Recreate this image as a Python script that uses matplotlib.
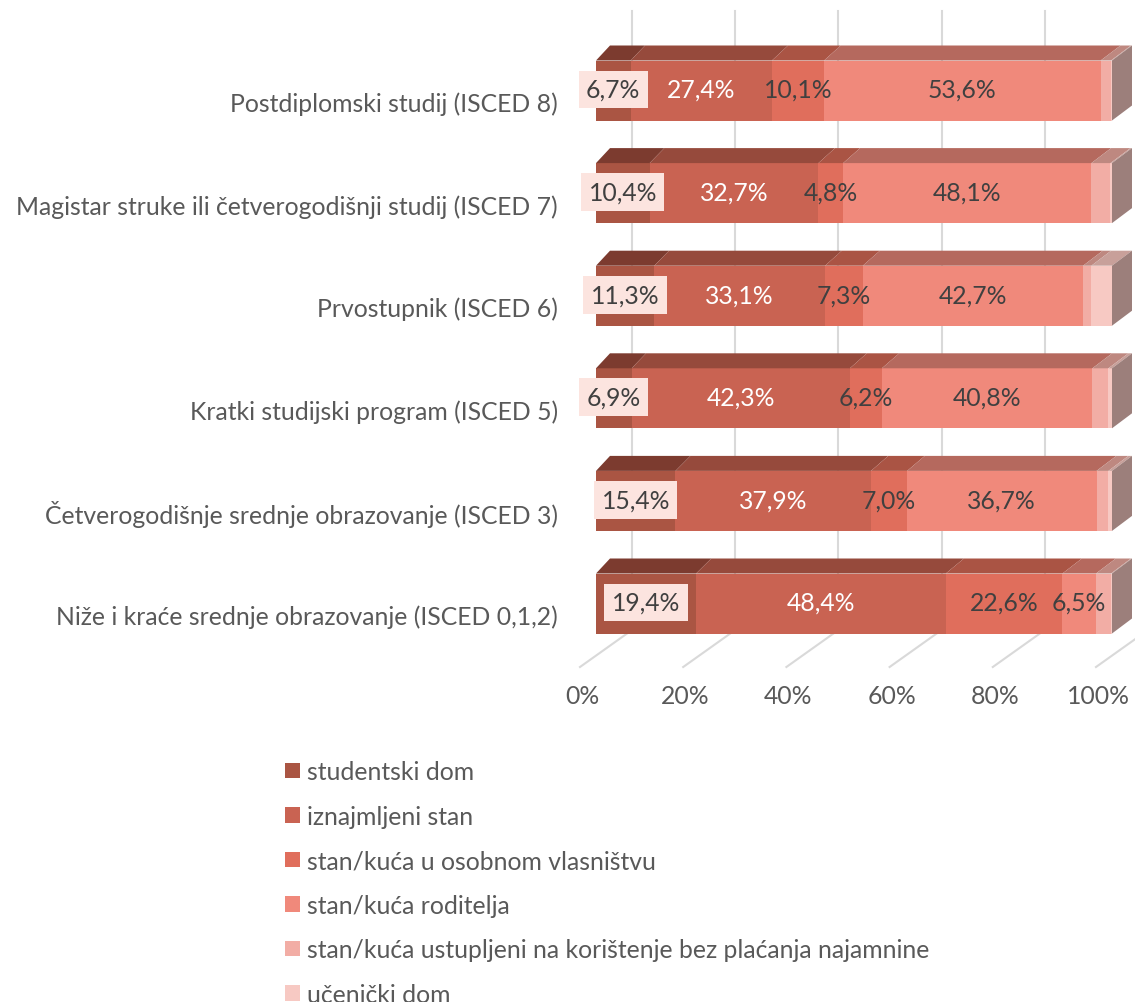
import numpy as np
import matplotlib.pyplot as plt
from matplotlib.patches import Polygon, Patch
from matplotlib import rcParams

FS = 17.8
rcParams.update({"font.family": ["Lato", "DejaVu Sans"], "font.size": FS})

# --- data (top row first, as in the picture) ---------------------------------
categories = [
    "Postdiplomski studij (ISCED 8)",
    "Magistar struke ili četverogodišnji studij (ISCED 7)",
    "Prvostupnik (ISCED 6)",
    "Kratki studijski program (ISCED 5)",
    "Četverogodišnje srednje obrazovanje (ISCED 3)",
    "Niže i kraće srednje obrazovanje (ISCED 0,1,2)",
]
series_names = [
    "studentski dom",
    "iznajmljeni stan",
    "stan/kuća u osobnom vlasništvu",
    "stan/kuća roditelja",
    "stan/kuća ustupljeni na korištenje bez plaćanja najamnine",
    "učenički dom",
]
studentski_dom = [6.7, 10.4, 11.3, 6.9, 15.4, 19.4]
iznajmljeni = [27.4, 32.7, 33.1, 42.3, 37.9, 48.4]
vlasnistvo = [10.1, 4.8, 7.3, 6.2, 7.0, 22.6]
roditelji = [53.6, 48.1, 42.7, 40.8, 36.7, 6.5]
ustupljeni = [2.0, 3.7, 1.6, 3.1, 2.3, 2.9]
ucenicki = [0.2, 0.3, 4.0, 0.7, 0.7, 0.2]
series = [studentski_dom, iznajmljeni, vlasnistvo, roditelji, ustupljeni, ucenicki]
labelled = [True, True, True, True, False, False]
xticks = [0, 20, 40, 60, 80, 100]

FRONT = ["#AA5543", "#C96352", "#E06E5C", "#F0897B", "#F2ADA5", "#F7C9C3"]
TOP = ["#7C3B2F", "#964A3C", "#AA5444", "#B5695E", "#BE8880", "#C8A09A"]
SIDE = "#9C7F7B"
GRID = "#D9D9D9"
TXT = "#595959"
DARK = "#404040"

# --- geometry (pixel based mapping of the Excel 3D look) ---------------------
W, H, DPI = 1135, 1003, 100
SX = 5.16          # px per percent
X0 = 596           # px of 0 % on bar front
UY = 102.6         # px per category step
Y0 = 604.5         # px (from top) of lowest bar centre
ax_l, ax_r, ax_t, ax_b = 575, 1135, 8, 720

fig = plt.figure(figsize=(W / DPI, H / DPI), dpi=DPI)
ax = fig.add_axes([ax_l / W, 1 - ax_b / H, (ax_r - ax_l) / W, (ax_b - ax_t) / H])
ax.set_xlim((ax_l - X0) / SX, (ax_r - X0) / SX)
ax.set_ylim(-(ax_b - Y0) / UY, (Y0 - ax_t) / UY)
ax.axis("off")

h = 60 / UY
dy = 15 / UY
def dx(p):
    return (14 + 6 * p / 100) / SX

# back wall gridlines + floor lines
wall_x = 36 / SX
floor_front_x = -16 / SX
floor_front_y = -(668 - Y0) / UY
wall_bottom = -(631 - Y0) / UY
wall_top = (Y0 - 12) / UY
for p in xticks:
    ax.plot([p + wall_x, p + wall_x], [wall_bottom, wall_top], color=GRID, lw=1.5, zorder=1)
    ax.plot([p + floor_front_x, p + wall_x], [floor_front_y, wall_bottom],
            color=GRID, lw=1.5, zorder=1, clip_on=False)
    ax.text(p + floor_front_x + 0.4, -(697 - Y0) / UY, f"{p}%", ha="center", va="center",
            color=TXT)

n = len(categories)
ypos = np.arange(n)[::-1]  # first category on top

left = np.zeros(n)
for k, vals in enumerate(series):
    vals = np.array(vals)
    ax.barh(ypos, vals, left=left, height=h, color=FRONT[k], lw=0, zorder=3)
    for i in range(n):
        l, r = left[i], left[i] + vals[i]
        yt = ypos[i] + h / 2
        ax.add_patch(Polygon([(l, yt), (r, yt), (r + dx(r), yt + dy), (l + dx(l), yt + dy)],
                             closed=True, fc=TOP[k], ec="none", zorder=3))
        if labelled[k]:
            s = f"{vals[i]:.1f}%".replace(".", ",")
            cx = (l + r) / 2
            if k == 0:
                ax.text(cx, ypos[i] + 0.01, s, ha="center", va="center", color=DARK,
                        zorder=5, bbox=dict(boxstyle="square,pad=0.3", fc="#FCE4DF", ec="none"))
            else:
                ax.text(cx, ypos[i] + 0.01, s, ha="center", va="center",
                        color="white" if k == 1 else DARK, zorder=5)
    left = left + vals

# right side faces
for i in range(n):
    r = left[i]
    yb, yt = ypos[i] - h / 2, ypos[i] + h / 2
    ax.add_patch(Polygon([(r, yb), (r, yt), (r + dx(r), yt + dy), (r + dx(r), yb + dy)],
                         closed=True, fc=SIDE, ec="none", zorder=3, clip_on=False))

# category labels
for i, c in enumerate(categories):
    ax.text((558 - X0) / SX, ypos[i] - 13 / UY, c, ha="right", va="center", color=TXT)

# legend
handles = [Patch(fc=FRONT[k], ec="none", label=series_names[k]) for k in range(len(series))]
fig.legend(handles=handles, loc="upper left", bbox_to_anchor=(273 / W, 1 - 749 / H),
           frameon=False, borderpad=0, labelspacing=0.87, handlelength=0.58,
           handleheight=0.58, handletextpad=0.3, labelcolor=TXT)

fig.savefig("out.png", dpi=DPI)
